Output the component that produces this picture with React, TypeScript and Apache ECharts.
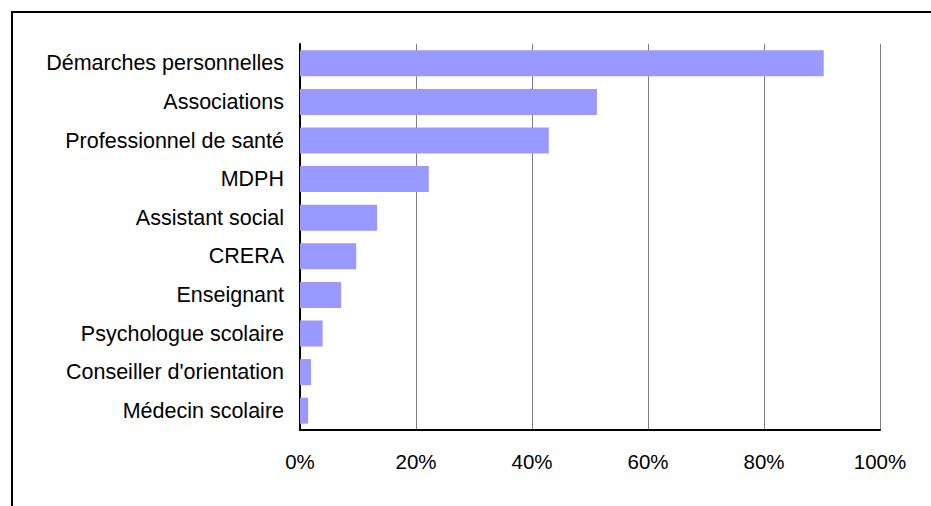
import React, { useEffect, useRef } from "react";
import * as echarts from "echarts";

const categories = [
  "Démarches personnelles",
  "Associations",
  "Professionnel de santé",
  "MDPH",
  "Assistant social",
  "CRERA",
  "Enseignant",
  "Psychologue scolaire",
  "Conseiller d'orientation",
  "Médecin scolaire",
];
const values = [90.3, 51.2, 42.9, 22.2, 13.3, 9.7, 7.1, 3.9, 1.9, 1.4];

export default function App() {
  const ref = useRef<HTMLDivElement>(null);
  useEffect(() => {
    if (!ref.current) return;
    const chart = echarts.init(ref.current, undefined, { renderer: "svg" });
    chart.setOption({
      animation: false,
      backgroundColor: "#ffffff",
      textStyle: { fontFamily: "Liberation Sans, Arial, sans-serif" },
      graphic: [
        {
          type: "rect",
          shape: { x: 12, y: 12, width: 940, height: 520 },
          style: { fill: "none", stroke: "#000", lineWidth: 2 },
          silent: true,
        },
      ],
      grid: { left: 300, top: 44, right: 51, bottom: 76, containLabel: false },
      xAxis: {
        type: "value",
        min: 0,
        max: 100,
        interval: 20,
        axisLine: { show: true, lineStyle: { color: "#000", width: 2 } },
        axisTick: { show: false },
        splitLine: { show: true, lineStyle: { color: "#808080", width: 1 } },
        axisLabel: {
          formatter: "{value}%",
          color: "#000",
          fontSize: 20.5,
          margin: 21,
          fontFamily: "Liberation Sans, Arial, sans-serif",
        },
      },
      yAxis: {
        type: "category",
        data: categories,
        inverse: true,
        axisLine: { show: true, lineStyle: { color: "#000", width: 2 } },
        axisTick: { show: false },
        splitLine: { show: false },
        axisLabel: {
          color: "#000",
          fontSize: 21.5,
          margin: 16,
          fontFamily: "Liberation Sans, Arial, sans-serif",
        },
      },
      series: [
        {
          type: "bar",
          data: values,
          barWidth: 26,
          itemStyle: { color: "#9999FF" },
        },
      ],
    });
    return () => chart.dispose();
  }, []);
  return (
    <div
      ref={ref}
      style={{ position: "fixed", left: 0, top: 0, width: 931, height: 506 }}
    />
  );
}
